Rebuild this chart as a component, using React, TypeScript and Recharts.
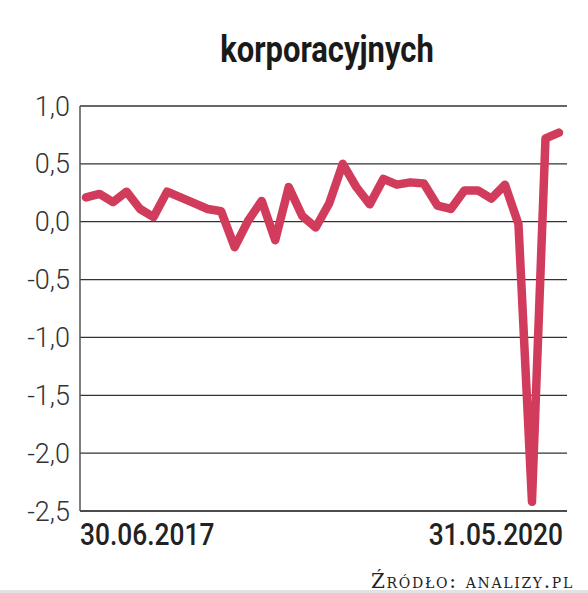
import { LineChart, Line, XAxis, YAxis, CartesianGrid } from 'recharts'

// month-end dates, June 2017 - May 2020
const months = [
  '30.06.2017', '31.07.2017', '31.08.2017', '30.09.2017', '31.10.2017', '30.11.2017',
  '31.12.2017', '31.01.2018', '28.02.2018', '31.03.2018', '30.04.2018', '31.05.2018',
  '30.06.2018', '31.07.2018', '31.08.2018', '30.09.2018', '31.10.2018', '30.11.2018',
  '31.12.2018', '31.01.2019', '28.02.2019', '31.03.2019', '30.04.2019', '31.05.2019',
  '30.06.2019', '31.07.2019', '31.08.2019', '30.09.2019', '31.10.2019', '30.11.2019',
  '31.12.2019', '31.01.2020', '29.02.2020', '31.03.2020', '30.04.2020', '31.05.2020',
]

const values = [
  0.21, 0.24, 0.17, 0.26, 0.11, 0.04, 0.26, 0.21, 0.16, 0.11, 0.09, -0.22,
  0.01, 0.18, -0.16, 0.3, 0.05, -0.05, 0.16, 0.5, 0.3, 0.15, 0.37, 0.32,
  0.34, 0.33, 0.14, 0.11, 0.27, 0.27, 0.2, 0.32, -0.02, -2.42, 0.72, 0.77,
]

const shownTicks = ['30.06.2017', '31.05.2020']
const yTicks = [-2.5, -2, -1.5, -1, -0.5, 0, 0.5, 1]

const title = 'korporacyjnych'
const source = 'Źródło: analizy.pl'

const font = "Roboto, 'DejaVu Sans', sans-serif"

const data = months.map((m, i) => ({ month: m, value: values[i] }))

function YTick({ y, payload }: any) {
  return (
    <text
      x={70}
      y={y + 9.5}
      textAnchor="end"
      fontFamily={font}
      fontWeight={300}
      fontSize={27}
      fill="#333"
    >
      {payload.value.toFixed(1).replace('.', ',')}
    </text>
  )
}

// first label sits flush with the axis, the last one ends at the plot edge
function XTick({ y, payload, index }: any) {
  const first = index === 0
  return (
    <g transform={`translate(${first ? 80 : 563}, ${y + 32}) scale(0.85, 1)`}>
      <text
        x={0}
        y={0}
        textAnchor={first ? 'start' : 'end'}
        fontFamily={font}
        fontWeight={500}
        fontSize={31}
        fill="#222"
      >
        {payload.value}
      </text>
    </g>
  )
}

export default function App() {
  return (
    <div
      style={{
        position: 'absolute',
        left: 0,
        top: 0,
        width: 588,
        height: 593,
        background: '#fff',
        overflow: 'hidden',
      }}
    >
      <div
        style={{
          position: 'absolute',
          left: 0,
          width: 654,
          top: 32,
          textAlign: 'center',
          fontFamily: font,
          fontWeight: 'bold',
          fontSize: 36,
          lineHeight: 1,
          color: '#1a1a1a',
          transform: 'scaleX(0.86)',
          transformOrigin: '327px 0',
        }}
      >
        {title}
      </div>

      <LineChart
        width={588}
        height={593}
        data={data}
        margin={{ top: 106, right: 21, bottom: 42, left: 0 }}
      >
        <CartesianGrid vertical={false} stroke="#333" strokeWidth={1.3} />
        <XAxis
          dataKey="month"
          ticks={shownTicks}
          interval={0}
          height={40}
          padding={{ left: 6, right: 8 }}
          axisLine={{ stroke: '#444', strokeWidth: 1.5 }}
          tickLine={false}
          tickSize={0}
          tick={<XTick />}
        />
        <YAxis
          domain={[-2.5, 1]}
          ticks={yTicks}
          width={80}
          axisLine={{ stroke: '#555', strokeWidth: 1.5 }}
          tickLine={false}
          tick={<YTick />}
        />
        <Line
          type="linear"
          dataKey="value"
          stroke="#d13c5c"
          strokeWidth={8.5}
          strokeLinejoin="round"
          strokeLinecap="round"
          dot={false}
          isAnimationActive={false}
        />
      </LineChart>

      <div
        style={{
          position: 'absolute',
          right: 14,
          top: 571,
          fontFamily: "'DejaVu Serif', serif",
          fontVariant: 'small-caps',
          fontSize: 20,
          letterSpacing: 1.7,
          lineHeight: 1,
          color: '#222',
        }}
      >
        {source}
      </div>
      <div
        style={{
          position: 'absolute',
          left: 0,
          bottom: 0,
          width: 588,
          height: 3,
          background: '#e2e2e2',
        }}
      />
    </div>
  )
}
